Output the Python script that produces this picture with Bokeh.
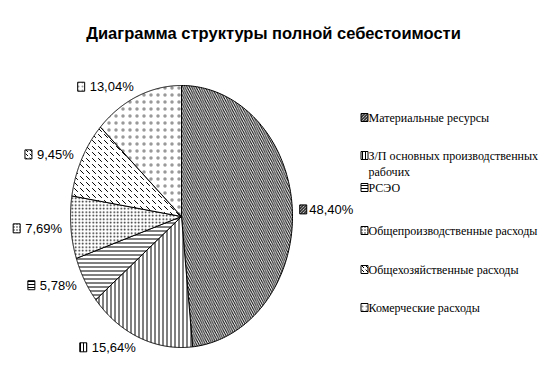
import numpy as np
import textwrap
from bokeh.plotting import figure
from bokeh.models import Range1d, ColumnDataSource
from bokeh.core.properties import value
from bokeh.embed import file_html
from bokeh.resources import INLINE

# ---- data ----
title = "Диаграмма структуры полной себестоимости"
categories = [
    "Материальные ресурсы",
    "З/П основных производственных рабочих",
    "РСЭО",
    "Общепроизводственные расходы",
    "Общехозяйственные расходы",
    "Комерческие расходы",
]
shares = [48.40, 15.64, 5.78, 7.69, 9.45, 13.04]

# ---- styles ----
hatches = ["\\", "|", "-", ".", "`", "."]
hatch_scales = [4.5, 4, 4, 3.5, 6, 7]
hatch_weights = [1.0, 1.0, 1.0, 0.6, 1.0, 0.2]
hatch_alphas = [1.0, 1.0, 1.0, 0.9, 1.0, 0.4]
key_scales = [3, 3, 3, 3, 4, 4]

# ---- layout (pixel coordinates of the page) ----
W, H = 540, 380
cx, cy, rx, ry = 181.0, 216.0, 111.0, 131.0
label_factor = 1.08
legend_x = 365
legend_rows = [117, 155, 187, 230, 269, 307]
label_font = "Liberation Sans"
legend_font = "Liberation Serif"

p = figure(width=W, height=H, output_backend="svg", toolbar_location=None,
           x_range=Range1d(0, W), y_range=Range1d(H, 0),
           min_border=0, outline_line_color=None)
p.axis.visible = False
p.grid.visible = False
p.background_fill_color = "white"

vals = np.array(shares)
frac = vals / vals.sum()
edges = np.concatenate([[0], np.cumsum(frac)]) * 2 * np.pi

xs, ys = [], []
for a0, a1 in zip(edges[:-1], edges[1:]):
    t = np.linspace(a0, a1, 160)
    xs.append(list(np.concatenate([[cx], cx + rx * np.sin(t)])))
    ys.append(list(np.concatenate([[cy], cy - ry * np.cos(t)])))

src = ColumnDataSource(dict(xs=xs, ys=ys, hatch=hatches, hs=hatch_scales,
                            hw=hatch_weights, ha=hatch_alphas))
p.patches("xs", "ys", source=src, fill_color="white", line_color="black",
          line_width=1, hatch_pattern="hatch", hatch_scale="hs",
          hatch_weight="hw", hatch_alpha="ha", hatch_color="black")


def fmt(v):
    return ("%.2f" % v).replace(".", ",") + "%"


def est_width(s, size=13):
    w = 0
    for ch in s:
        if ch.isdigit():
            w += 0.556
        elif ch == ",":
            w += 0.278
        elif ch == "%":
            w += 0.889
        else:
            w += 0.5
    return w * size


# data labels
lab_txt, lab_x, lab_y, lab_align = [], [], [], []
key_x, key_y = [], []
mids = (edges[:-1] + edges[1:]) / 2
for v, m in zip(shares, mids):
    lx = cx + rx * label_factor * np.sin(m)
    ly = cy - ry * label_factor * np.cos(m)
    txt = fmt(v)
    if np.sin(m) >= 0:
        kx = lx + 2
        tx = lx + 8
        align = "left"
    else:
        tw = est_width(txt)
        kx = lx - tw - 8.5
        tx = lx
        align = "right"
    lab_txt.append(txt); lab_x.append(tx); lab_y.append(ly); lab_align.append(align)
    key_x.append(kx); key_y.append(ly)

lsrc = ColumnDataSource(dict(x=lab_x, y=lab_y, text=lab_txt, align=lab_align))
p.text("x", "y", text="text", source=lsrc, text_align="align",
       text_baseline="middle", text_font=value(label_font),
       text_font_size="13px", text_color="black")
ksrc = ColumnDataSource(dict(x=key_x, y=key_y, hatch=hatches, hs=key_scales,
                             hw=hatch_weights, ha=hatch_alphas))
p.rect("x", "y", width=7, height=9, width_units="screen", height_units="screen",
       source=ksrc, fill_color="white", line_color="black", line_width=1,
       hatch_pattern="hatch", hatch_scale="hs", hatch_weight="hw",
       hatch_alpha="ha", hatch_color="black")

# legend
leg_tx, leg_ty = [], []
for name, ry0 in zip(categories, legend_rows):
    for i, line in enumerate(textwrap.wrap(name, 30)):
        leg_tx.append(line)
        leg_ty.append(ry0 + i * 16)
p.text(x=[legend_x + 3] * len(leg_tx), y=leg_ty, text=leg_tx,
       text_align="left", text_baseline="middle",
       text_font=value(legend_font), text_font_size="12px", text_color="black")
gsrc = ColumnDataSource(dict(x=[legend_x - 1] * len(categories), y=legend_rows,
                             hatch=hatches, hs=key_scales, hw=hatch_weights,
                             ha=hatch_alphas))
p.rect("x", "y", width=7, height=8, width_units="screen", height_units="screen",
       source=gsrc, fill_color="white", line_color="black", line_width=1,
       hatch_pattern="hatch", hatch_scale="hs", hatch_weight="hw",
       hatch_alpha="ha", hatch_color="black")

# title
p.text(x=[273], y=[32], text=[title], text_align="center",
       text_baseline="middle", text_font=value("Liberation Sans"),
       text_font_style="bold", text_font_size="16.5px", text_color="black")

open("out.html", "w").write(file_html(p, INLINE))
